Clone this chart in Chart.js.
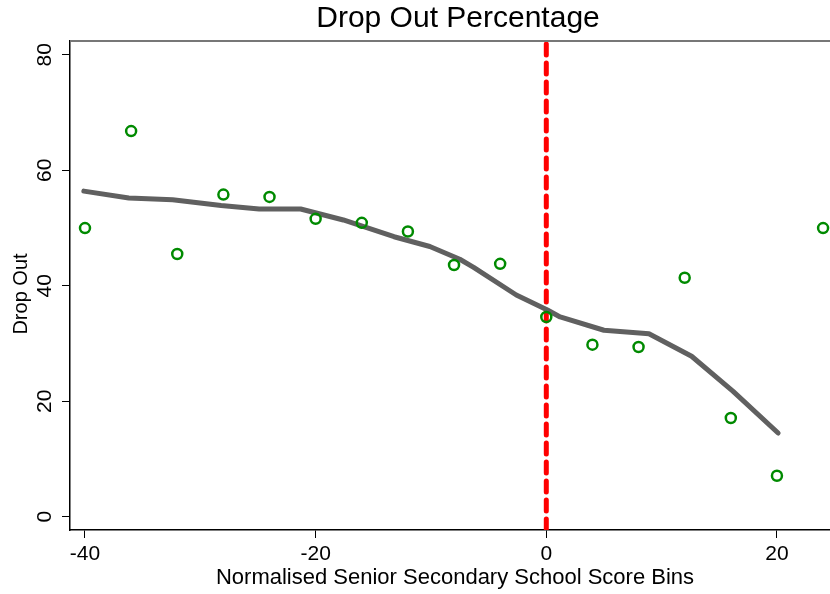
<!DOCTYPE html>
<html>
<head>
<meta charset="utf-8">
<script src="https://cdn.jsdelivr.net/npm/chart.js@4.4.1/dist/chart.umd.min.js"></script>
<style>
  html, body { margin: 0; padding: 0; background: #fff; }
  #wrap { width: 830px; height: 594px; }
</style>
</head>
<body>
<div id="wrap"><canvas id="mycanvas" width="830" height="594"></canvas></div>
<script>
// data
const binX = [-40, -36, -32, -28, -24, -20, -16, -12, -8, -4, 0, 4, 8, 12, 16, 20, 24];
const dropOut = [50.0, 66.8, 45.5, 55.8, 55.4, 51.6, 50.9, 49.4, 43.6, 43.8, 34.6, 29.8, 29.4, 41.4, 17.1, 7.1, 50.0];
const smoothX = [-40.1, -36.2, -32.4, -28.2, -24.9, -21.3, -17.6, -13.2, -10.1, -7.5, -6.3, -2.6, 0.1, 1.2, 5.0, 8.9, 12.6, 16.2, 20.1];
const smoothY = [56.4, 55.2, 54.9, 53.9, 53.3, 53.3, 51.4, 48.5, 46.8, 44.6, 43.2, 38.4, 35.8, 34.6, 32.3, 31.7, 27.8, 21.7, 14.5];
const cutoffX = 0;
const xTicks = [-40, -20, 0, 20];
const yTicks = [0, 20, 40, 60, 80];
const xRange = [-41.3, 24.6];
const yRange = [-2.3, 82.4];

const chartTitle = 'Drop Out Percentage';
const xTitle = 'Normalised Senior Secondary School Score Bins';
const yTitle = 'Drop Out';

const FONT = '"Liberation Sans", Arial, Helvetica, sans-serif';

function toPoints(xs, ys) {
  var pts = [];
  for (var i = 0; i < xs.length; i++) {
    pts.push({ x: xs[i], y: ys[i] });
  }
  return pts;
}

// title, rotated y labels, frame line on top
const stataText = {
  id: 'stataText',
  afterDraw: function(chart) {
    const ctx = chart.ctx;
    const area = chart.chartArea;
    const ys = chart.scales.y;
    ctx.save();

    ctx.strokeStyle = '#777777';
    ctx.lineWidth = 2;
    ctx.beginPath();
    ctx.moveTo(area.left, area.top);
    ctx.lineTo(area.right, area.top);
    ctx.stroke();

    ctx.fillStyle = '#000';
    ctx.textAlign = 'center';
    ctx.textBaseline = 'middle';
    ctx.font = '30px ' + FONT;
    ctx.fillText(chartTitle, 458, 19);

    ctx.font = '22px ' + FONT;
    ctx.fillText(xTitle, 455, 578);

    for (let v of yTicks) {
      ctx.save();
      ctx.translate(45, ys.getPixelForValue(v));
      ctx.rotate(-Math.PI / 2);
      ctx.font = '21px ' + FONT;
      ctx.fillText(String(v), 0, 0);
      ctx.restore();
    }

    ctx.save();
    ctx.translate(21, 294);
    ctx.rotate(-Math.PI / 2);
    ctx.font = '20px ' + FONT;
    ctx.fillText(yTitle, 0, 0);
    ctx.restore();

    ctx.restore();
  }
};

const ctx = document.getElementById('mycanvas');
window.myChart = new Chart(ctx, {
  type: 'scatter',
  data: {
    datasets: [
      {
        label: 'cutoff',
        type: 'line',
        data: [{ x: cutoffX, y: yRange[0] }, { x: cutoffX, y: yRange[1] }],
        borderColor: '#ff0000',
        borderWidth: 5,
        borderDash: [11, 8],
        borderCapStyle: 'round',
        pointRadius: 0,
        fill: false,
        order: 3
      },
      {
        label: 'lowess',
        type: 'line',
        data: toPoints(smoothX, smoothY),
        borderColor: '#606060',
        borderWidth: 5,
        borderCapStyle: 'round',
        borderJoinStyle: 'round',
        pointRadius: 0,
        tension: 0,
        fill: false,
        order: 2
      },
      {
        label: 'drop out',
        data: toPoints(binX, dropOut),
        showLine: false,
        pointStyle: 'circle',
        pointRadius: 5,
        borderWidth: 2.5,
        borderColor: '#008a00',
        backgroundColor: 'rgba(0,0,0,0)',
        order: 1
      }
    ]
  },
  options: {
    responsive: false,
    animation: false,
    events: [],
    layout: { autoPadding: false, padding: { top: 41, left: 0, right: 0, bottom: 0 } },
    plugins: {
      legend: { display: false },
      title: { display: false },
      tooltip: { enabled: false }
    },
    scales: {
      x: {
        type: 'linear',
        min: xRange[0],
        max: xRange[1],
        afterBuildTicks: function(scale) {
          scale.ticks = xTicks.map(v => ({ value: v }));
        },
        afterFit: function(scale) {
          scale.height = 64;
          scale.paddingLeft = 0;
          scale.paddingRight = 0;
        },
        grid: { drawOnChartArea: false, color: '#000', tickLength: 8, tickWidth: 1 },
        border: { display: true, color: '#000', width: 1.5 },
        ticks: {
          color: '#000',
          font: { family: FONT, size: 21 },
          padding: 4,
          maxRotation: 0,
          callback: v => String(v)
        }
      },
      y: {
        type: 'linear',
        min: yRange[0],
        max: yRange[1],
        afterBuildTicks: function(scale) {
          scale.ticks = yTicks.map(v => ({ value: v }));
        },
        afterFit: function(scale) {
          scale.width = 70;
          scale.paddingTop = 0;
          scale.paddingBottom = 0;
        },
        grid: { drawOnChartArea: false, color: '#000', tickLength: 8, tickWidth: 1 },
        border: { display: true, color: '#000', width: 1.5 },
        ticks: { display: false }
      }
    }
  },
  plugins: [stataText]
});
</script>
</body>
</html>
